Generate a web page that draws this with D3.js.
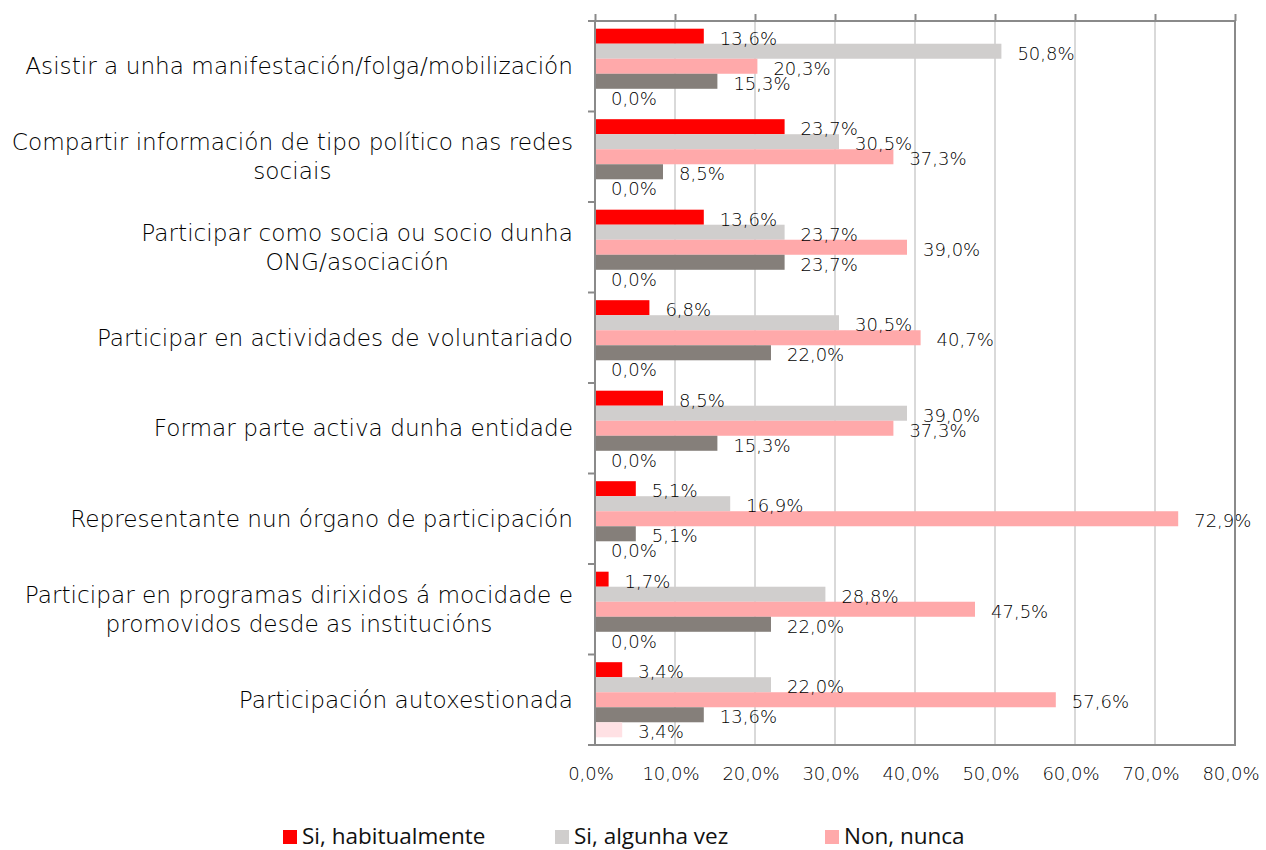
<!DOCTYPE html>
<html>
<head>
<meta charset="utf-8">
<script src="https://cdn.jsdelivr.net/npm/d3@7"></script>
<style>
  html, body { margin: 0; padding: 0; background: #ffffff; }
  svg { display: block; }
</style>
</head>
<body>
<svg id="chart" width="1266" height="850"></svg>
<script>
// ---------- data ----------
const categories = [
  ["Asistir a unha manifestación/folga/mobilización"],
  ["Compartir información de tipo político nas redes", "sociais"],
  ["Participar como socia ou socio dunha", "ONG/asociación"],
  ["Participar en actividades de voluntariado"],
  ["Formar parte activa dunha entidade"],
  ["Representante nun órgano de participación"],
  ["Participar en programas dirixidos á mocidade e", "promovidos desde as institucións"],
  ["Participación autoxestionada"]
];
const seriesNames = ["Si, habitualmente", "Si, algunha vez", "Non, nunca", "Serie 4", "Serie 5"];
const legendSeries = [0, 1, 2];
const habitualmente = [13.6, 23.7, 13.6, 6.8, 8.5, 5.1, 1.7, 3.4];
const algunhaVez    = [50.8, 30.5, 23.7, 30.5, 39.0, 16.9, 28.8, 22.0];
const nonNunca      = [20.3, 37.3, 39.0, 40.7, 37.3, 72.9, 47.5, 57.6];
const serie4        = [15.3, 8.5, 23.7, 22.0, 15.3, 5.1, 22.0, 13.6];
const serie5        = [0.0, 0.0, 0.0, 0.0, 0.0, 0.0, 0.0, 3.4];
const seriesValues = [habitualmente, algunhaVez, nonNunca, serie4, serie5];
const xTicks = [0, 10, 20, 30, 40, 50, 60, 70, 80];
const colors = ["#ff0000", "#d0cecd", "#ffa9aa", "#857f7a", "#ffe1e4"];

(function () {
// ---------- layout ----------
const svg = d3.select("#chart");
const pLeft = 595, pRight = 1235, pTop = 21, pBottom = 745;
const labelFont = "'DejaVu Sans', Lato, sans-serif";
const labelWeight = 300;
const textColor = "#000";

const x = d3.scaleLinear().domain([0, 80]).range([pLeft, pRight]);
const y0 = d3.scaleBand().domain(d3.range(categories.length)).range([pTop, pBottom]).paddingInner(0.17).paddingOuter(0.085);
const y1 = d3.scaleBand().domain(d3.range(seriesValues.length)).range([0, y0.bandwidth()]).padding(0);

const fmt = v => d3.format(".1f")(v).replace(".", ",") + "%";

// gridlines
svg.append("g").selectAll("line").data(xTicks.slice(1, -1)).join("line")
  .attr("x1", d => x(d)).attr("x2", d => x(d))
  .attr("y1", pTop).attr("y2", pBottom)
  .attr("stroke", "#d9d9d9").attr("stroke-width", 2);

// bars
const groups = svg.append("g").selectAll("g").data(categories).join("g")
  .attr("transform", (d, i) => `translate(0,${y0(i)})`);
groups.each(function(c, ci) {
  const g = d3.select(this);
  seriesValues.forEach((vals, si) => {
    g.append("rect")
      .attr("x", x(0))
      .attr("y", y1(si))
      .attr("width", Math.max(0, x(vals[ci]) - x(0)))
      .attr("height", y1.bandwidth())
      .attr("fill", colors[si]);
  });
});

// frame
const frameColor = "#8a8a8a";
svg.append("rect").attr("x", pLeft).attr("y", pTop).attr("width", pRight - pLeft).attr("height", pBottom - pTop)
  .attr("fill", "none").attr("stroke", frameColor).attr("stroke-width", 2);

// top axis ticks
const xAxis = d3.axisTop(x).tickValues(xTicks).tickSize(7).tickFormat("");
const gx = svg.append("g").attr("transform", `translate(0,${pTop})`).call(xAxis);
gx.select(".domain").remove();
gx.selectAll("line").attr("stroke", frameColor).attr("stroke-width", 2);

// left axis ticks at category boundaries
const boundaries = d3.range(categories.length + 1).map(i => pTop + i * (pBottom - pTop) / categories.length);
svg.append("g").selectAll("line").data(boundaries).join("line")
  .attr("x1", pLeft - 7).attr("x2", pLeft)
  .attr("y1", d => d).attr("y2", d => d)
  .attr("stroke", frameColor).attr("stroke-width", 2);

// bottom tick labels
svg.append("g").selectAll("text").data(xTicks).join("text")
  .attr("x", d => x(d) - 4).attr("y", 774)
  .attr("dy", "0.35em")
  .attr("text-anchor", "middle")
  .attr("font-family", labelFont).attr("font-weight", labelWeight).attr("font-size", 18).attr("fill", textColor)
  .text(d => fmt(d));

// value labels
groups.each(function(c, ci) {
  const g = d3.select(this);
  seriesValues.forEach((vals, si) => {
    g.append("text")
      .attr("x", x(vals[ci]) + 16)
      .attr("y", y1(si) + y1.bandwidth() / 2 + 2)
      .attr("dy", "0.35em")
      .attr("font-family", labelFont).attr("font-weight", labelWeight).attr("font-size", 18).attr("fill", textColor)
      .text(fmt(vals[ci]));
  });
});

// category labels
const catG = svg.append("g");
categories.forEach((lines, ci) => {
  const cy = y0(ci) + y0.bandwidth() / 2;
  const lh = 29;
  const t = catG.append("text")
    .attr("font-family", labelFont).attr("font-weight", labelWeight).attr("font-size", 23.2).attr("fill", textColor)
    .attr("text-anchor", "middle");
  lines.forEach((ln, li) => {
    t.append("tspan").attr("y", cy + (li - (lines.length - 1) / 2) * lh).attr("dy", "0.35em").text(ln);
  });
  let maxW = 0;
  t.selectAll("tspan").each(function() { maxW = Math.max(maxW, this.getComputedTextLength()); });
  const cx = 573 - maxW / 2;
  t.selectAll("tspan").attr("x", cx);
});

// legend
const legendX = [283, 555, 825];
const lg = svg.append("g");
legendSeries.forEach((si, k) => {
  lg.append("rect").attr("x", legendX[k]).attr("y", 830).attr("width", 14).attr("height", 14).attr("fill", colors[si]);
  lg.append("text").attr("x", legendX[k] + 19).attr("y", 836).attr("dy", "0.35em")
    .attr("font-family", "'Open Sans', 'Noto Sans', sans-serif").attr("font-size", 22.5).attr("fill", "#111")
    .text(seriesNames[si]);
});
})();
</script>
</body>
</html>
